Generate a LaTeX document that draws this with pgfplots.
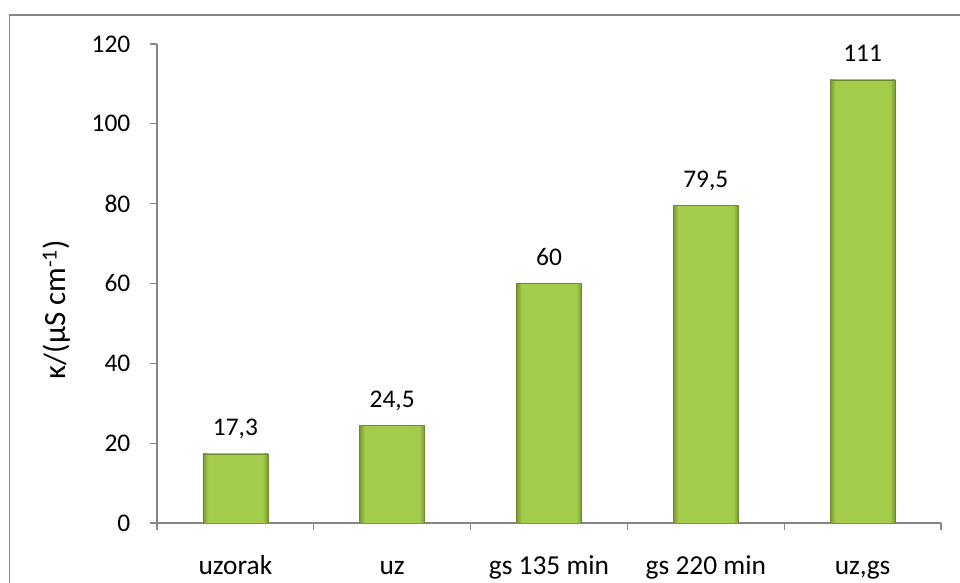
\documentclass[border=0pt]{standalone}
\usepackage{fontspec}
\setmainfont{Carlito}
\usepackage{pgfplots}
\pgfplotsset{compat=1.18}

\definecolor{barlight}{HTML}{A4CC4B}
\definecolor{bardark}{HTML}{7A9832}
\definecolor{axisgray}{HTML}{868686}

% dark edges left and right, flat light middle
\pgfdeclarehorizontalshading{barshade}{100bp}{
  color(0bp)=(bardark); color(25bp)=(bardark); color(29bp)=(barlight);
  color(71bp)=(barlight); color(75bp)=(bardark); color(100bp)=(bardark)}

\newcommand\bigfont{\fontsize{25.5}{30}\selectfont}

\begin{document}
\bigfont
\begin{tikzpicture}[x=1bp,y=1bp]
  \useasboundingbox (0,0) rectangle (960,583);
  % chart area frame, cut off at the right and bottom
  \draw[axisgray, line width=1.6bp] (9.5,-5) -- (9.5,568) -- (970,568);
  \begin{axis}[
      at={(157bp,60bp)}, anchor=south west,
      scale only axis,
      width=784bp, height=479bp,
      xmin=-0.5, xmax=4.5,
      ymin=0, ymax=120,
      ytick={0,20,...,120},
      xtick={0,...,4},
      xticklabels={uzorak, uz, gs 135 min, gs 220 min, {uz,gs}},
      minor xtick={-0.5,0.5,...,4.5},
      major x tick style={draw=none},
      tick align=outside,
      major tick length=7bp,
      minor tick length=7bp,
      axis x line*=bottom,
      axis y line*=left,
      axis line style={axisgray, line width=1.3bp},
      every tick/.style={axisgray, line width=1.3bp},
      /pgf/number format/assume math mode=true,
      /pgf/number format/use comma,
      /pgf/number format/1000 sep={},
      xticklabel style={anchor=base, yshift=-45bp, font=\fontsize{27.5}{32}\selectfont},
      yticklabel style={anchor=east, xshift=-11bp, font=\bigfont},
      ylabel={κ/(µS cm\textsuperscript{-1})},
      every axis y label/.style={at={(axis description cs:-0.128,0.445)}, rotate=90,
        anchor=center, font=\fontsize{31}{36}\selectfont},
      ybar, bar width=65bp, bar shift=0pt,
      nodes near coords,
      every node near coord/.append style={anchor=base, yshift=18bp, black, font=\bigfont},
      barstyle/.style={draw=bardark!90!black, line width=0.8bp, shading=barshade},
    ]
    \addplot[barstyle] coordinates {(0,17.3)};
    \addplot[barstyle] coordinates {(1,24.5)};
    \addplot[barstyle] coordinates {(2,60)};
    \addplot[barstyle] coordinates {(3,79.5)};
    \addplot[barstyle] coordinates {(4,111)};
  \end{axis}
\end{tikzpicture}
\end{document}
